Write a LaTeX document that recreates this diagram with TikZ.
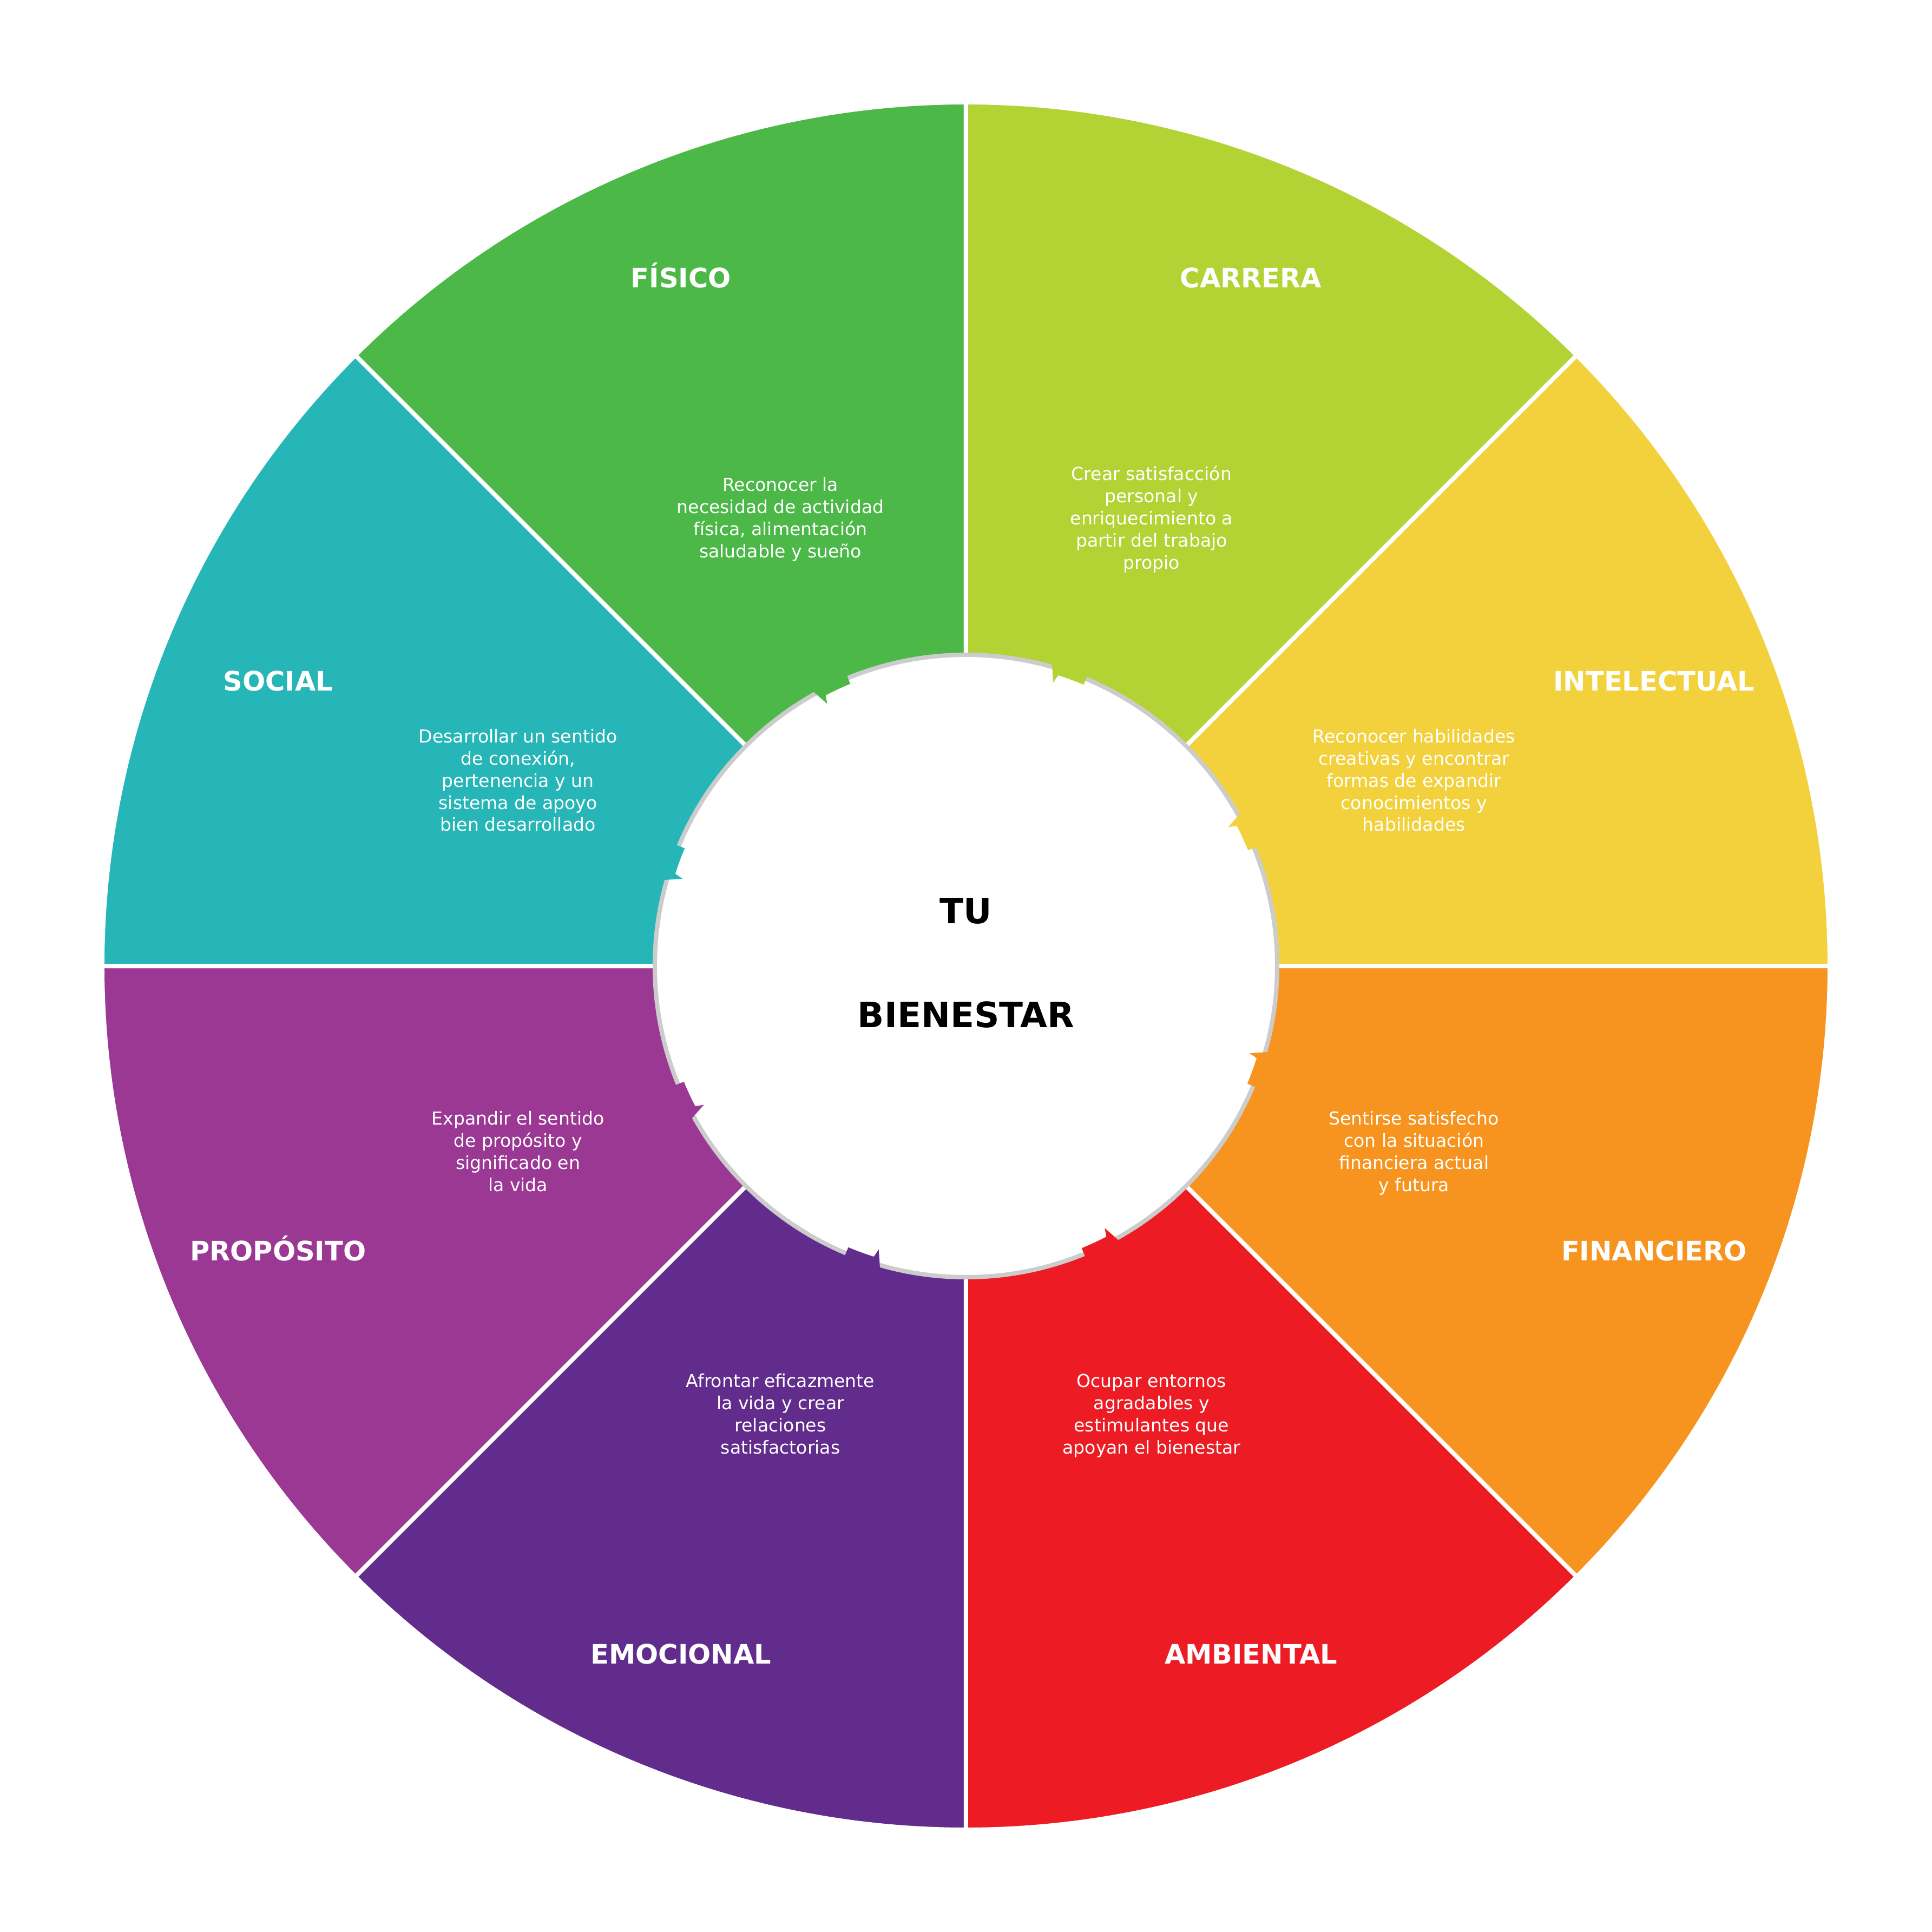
\documentclass[tikz,border=0pt]{standalone}
\usepackage{fontspec}
\setmainfont{DejaVu Sans}
\definecolor{cfisico}{HTML}{4CB848}
\definecolor{ccarrera}{HTML}{B3D335}
\definecolor{cintelectual}{HTML}{F2D13D}
\definecolor{cfinanciero}{HTML}{F6941F}
\definecolor{cambiental}{HTML}{ED1C24}
\definecolor{cemocional}{HTML}{622C8C}
\definecolor{cproposito}{HTML}{9A3894}
\definecolor{csocial}{HTML}{27B6B7}
\definecolor{cring}{HTML}{CCCCCC}

\begin{document}
\begin{tikzpicture}[
		slice/.style={draw=white, line width=0.8mm},
		areaname/.style={text=white, inner sep=0pt, font=\bfseries\fontsize{14.1}{17}\selectfont, text height=10.28pt, text depth=0pt},
		areatext/.style={text=white, inner sep=0pt, anchor=base, align=center, font=\fontsize{9.41}{11.64}\selectfont},
		centertext/.style={inner sep=0pt, font=\bfseries\fontsize{18.35}{22}\selectfont, text height=13.38pt, text depth=0pt}
	]
		\fill[white] (-17.85, -17.85) rectangle (17.85, 17.85);
		\useasboundingbox (-17.85, -17.85) rectangle (17.85, 17.85);
		
		% the eight areas
		\draw[slice, fill=cfisico] (0, 0) -- (90:15.96) arc[start angle=90, end angle=135, radius=15.96] -- cycle;
		\draw[slice, fill=ccarrera] (0, 0) -- (45:15.96) arc[start angle=45, end angle=90, radius=15.96] -- cycle;
		\draw[slice, fill=cintelectual] (0, 0) -- (0:15.96) arc[start angle=0, end angle=45, radius=15.96] -- cycle;
		\draw[slice, fill=cfinanciero] (0, 0) -- (-45:15.96) arc[start angle=-45, end angle=0, radius=15.96] -- cycle;
		\draw[slice, fill=cambiental] (0, 0) -- (-90:15.96) arc[start angle=-90, end angle=-45, radius=15.96] -- cycle;
		\draw[slice, fill=cemocional] (0, 0) -- (-135:15.96) arc[start angle=-135, end angle=-90, radius=15.96] -- cycle;
		\draw[slice, fill=cproposito] (0, 0) -- (180:15.96) arc[start angle=180, end angle=225, radius=15.96] -- cycle;
		\draw[slice, fill=csocial] (0, 0) -- (135:15.96) arc[start angle=135, end angle=180, radius=15.96] -- cycle;
		
		\draw[fill=white, draw=cring, line width=0.8mm] (0, 0) circle (5.75);
		
		% small arrows on the ring
		\fill[cfisico] (112.3:5.95) -- (112.3:5.635) arc[start angle=112.3, end angle=117.4, radius=5.635] -- (117.9:5.48) -- (119.05:5.79) -- (117.9:6.1) -- (117.4:5.95) -- cycle;
		\fill[ccarrera] (67.3:5.95) -- (67.3:5.635) arc[start angle=67.3, end angle=72.4, radius=5.635] -- (72.9:5.48) -- (74.05:5.79) -- (72.9:6.1) -- (72.4:5.95) -- cycle;
		\fill[cintelectual] (22.3:5.95) -- (22.3:5.635) arc[start angle=22.3, end angle=27.4, radius=5.635] -- (27.9:5.48) -- (29.05:5.79) -- (27.9:6.1) -- (27.4:5.95) -- cycle;
		\fill[cfinanciero] (-22.7:5.95) -- (-22.7:5.635) arc[start angle=-22.7, end angle=-17.6, radius=5.635] -- (-17.1:5.48) -- (-15.95:5.79) -- (-17.1:6.1) -- (-17.6:5.95) -- cycle;
		\fill[cambiental] (-67.7:5.95) -- (-67.7:5.635) arc[start angle=-67.7, end angle=-62.6, radius=5.635] -- (-62.1:5.48) -- (-60.95:5.79) -- (-62.1:6.1) -- (-62.6:5.95) -- cycle;
		\fill[cemocional] (-112.7:5.95) -- (-112.7:5.635) arc[start angle=-112.7, end angle=-107.6, radius=5.635] -- (-107.1:5.48) -- (-105.95:5.79) -- (-107.1:6.1) -- (-107.6:5.95) -- cycle;
		\fill[cproposito] (-157.7:5.95) -- (-157.7:5.635) arc[start angle=-157.7, end angle=-152.6, radius=5.635] -- (-152.1:5.48) -- (-150.95:5.79) -- (-152.1:6.1) -- (-152.6:5.95) -- cycle;
		\fill[csocial] (157.3:5.95) -- (157.3:5.635) arc[start angle=157.3, end angle=162.4, radius=5.635] -- (162.9:5.48) -- (164.05:5.79) -- (162.9:6.1) -- (162.4:5.95) -- cycle;
		
		% names
		\node[areaname] (fisico) at (-5.266, 12.713) {FÍSICO};
		\node[areaname] (carrera) at (5.266, 12.713) {CARRERA};
		\node[areaname] (intelectual) at (12.713, 5.266) {INTELECTUAL};
		\node[areaname] (financiero) at (12.713, -5.266) {FINANCIERO};
		\node[areaname] (ambiental) at (5.266, -12.713) {AMBIENTAL};
		\node[areaname] (emocional) at (-5.266, -12.713) {EMOCIONAL};
		\node[areaname] (proposito) at (-12.713, -5.266) {PROPÓSITO};
		\node[areaname] (social) at (-12.713, 5.266) {SOCIAL};
		
		% descriptions (base = last line)
		\node[areatext] (fisicotxt) at (-3.429, 7.544) {Reconocer la\\necesidad de actividad\\física, alimentación\\saludable y sueño};
		\node[areatext] (carreratxt) at (3.429, 7.339) {Crear satisfacción\\personal y\\enriquecimiento a\\partir del trabajo\\propio};
		\node[areatext] (intelectualtxt) at (8.278, 2.490) {Reconocer habilidades\\creativas y encontrar\\formas de expandir\\conocimientos y\\habilidades};
		\node[areatext] (financierotxt) at (8.278, -4.163) {Sentirse satisfecho\\con la situación\\financiera actual\\y futura};
		\node[areatext] (ambientaltxt) at (3.429, -9.012) {Ocupar entornos\\agradables y\\estimulantes que\\apoyan el bienestar};
		\node[areatext] (emocionaltxt) at (-3.429, -9.012) {Afrontar eficazmente\\la vida y crear\\relaciones\\satisfactorias};
		\node[areatext] (propositotxt) at (-8.278, -4.163) {Expandir el sentido\\de propósito y\\significado en\\la vida};
		\node[areatext] (socialtxt) at (-8.278, 2.490) {Desarrollar un sentido\\de conexión,\\pertenencia y un\\sistema de apoyo\\bien desarrollado};
		
		\node[centertext] (tu) at (0, 1.017) {TU};
		\node[centertext] (bienestar) at (0, -0.90) {BIENESTAR};
	\end{tikzpicture}
\end{document}
